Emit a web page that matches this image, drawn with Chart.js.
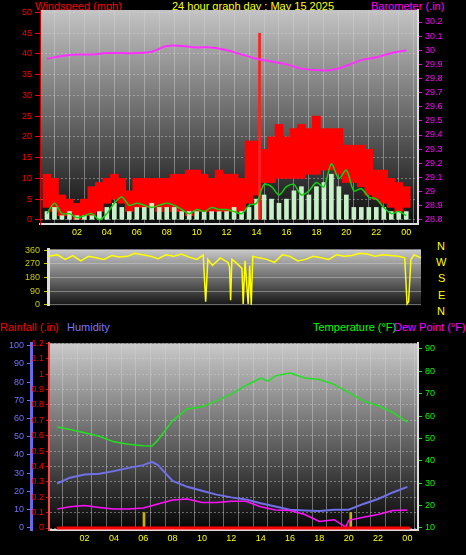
<!DOCTYPE html>
<html>
<head>
<meta charset="utf-8">
<script src="https://cdn.jsdelivr.net/npm/chart.js@4"></script>
<style>
  body { margin: 0; background: #000; width: 466px; height: 555px; overflow: hidden; font-family: "Liberation Sans", Arial, sans-serif; }
  canvas, .t { position: absolute; }
  .t { font-size: 11px; white-space: nowrap; line-height: 12px; }
</style>
</head>
<body>
<div class="t" style="left:35px;top:0px;color:#f00">Windspeed (mph)</div>
<div class="t" style="left:172px;top:0px;color:#ff0">24 hour graph day : May 15 2025</div>
<div class="t" style="left:371px;top:0px;color:#f0f">Barometer (.in)</div>
<div class="t" style="left:437px;top:240px;color:#ff0">N</div>
<div class="t" style="left:436px;top:256px;color:#ff0">W</div>
<div class="t" style="left:438px;top:272px;color:#ff0">S</div>
<div class="t" style="left:438px;top:289px;color:#ff0">E</div>
<div class="t" style="left:437px;top:305px;color:#ff0">N</div>
<div class="t" style="left:0px;top:321px;color:#f00">Rainfall (.in)</div>
<div class="t" style="left:67px;top:321px;color:#77f">Humidity</div>
<div class="t" style="left:313px;top:321px;color:#0f0">Temperature (°F)</div>
<div class="t" style="left:394px;top:321px;color:#f0f">Dew Point (°F)</div>

<canvas id="wind" width="466" height="245" style="left:0;top:0"></canvas>
<canvas id="dir" width="466" height="75" style="left:0;top:240px"></canvas>
<canvas id="temp" width="466" height="220" style="left:0;top:335px"></canvas>

<script>
// Ветер: получасовые отметки
const windTimes = [0,0.5,1,1.5,2,2.5,3,3.5,4,4.5,5,5.5,6,6.5,7,7.5,8,8.5,9,9.5,10,10.5,11,11.5,12,12.5,13,13.5,14,14.5,15,15.5,16,16.5,17,17.5,18,18.5,19,19.5,20,20.5,21,21.5,22,22.5,23,23.5,24];
const gustHigh = [11,10,6,5,4,5,8,9,10,11,10,7,10,10,10,10,10,11,11,12,12,11,10,12,11,11,10,19,19,17,20,23,20,22,23,22,25,22,22,22,18,18,18,17,12,12,10,9,8];
const gustLow = [3,2,1,1,0,1,1,2,4,5,4,2,3,3,3,2,3,2,2,1,2,2,2,2,2,2,2,4,6,9,9,10,10,10,10,11,11,12,12,11,9,9,8,6,5,4,3,2,3];
const calmHigh = [2,3,1,2,1,1,1,2,3,4,3,2,3,3,4,3,3,3,2,2,2,2,2,2,2,3,2,3,5,6,5,4,5,7,8,6,8,9,11,8,6,3,3,3,3,3,2,2,2];
const avgWind = [1.5,4,1.5,1.5,0.5,1,1.5,0,1.5,4,5.5,3.5,4,3.5,3,3.5,4,3.5,2.5,1.5,2.5,2,3,2.5,2.5,2,1.5,3.5,4,8.5,8,6,8,8.5,6,7,9,8,13.5,10,12,7,7.5,5.5,5,3,1.5,2,1];
const spikeTimes = [14.2];
const spikeValues = [45];

// Барометр
const baroTimes = [0,1,2,3,4,5,6,7,8,9,10,11,12,13,14,15,16,17,18,19,20,21,22,23,24];
const baroValues = [29.94,29.96,29.97,29.97,29.98,29.98,29.98,29.99,30.03,30.03,30.02,30.02,30.0,29.97,29.94,29.92,29.90,29.87,29.86,29.86,29.89,29.93,29.95,29.98,30.0];

// Направление ветра
const dirTimes = [0.4,1,1.5,2,2.5,3,3.5,4,4.5,5,5.5,6,6.5,7,7.5,8,8.5,9,9.5,10,10.4,10.56,10.7,11,11.5,12,12.1,12.17,12.25,12.5,12.9,12.98,13.1,13.3,13.4,13.5,13.6,14,14.5,15,15.5,16,16.5,17,17.5,18,18.5,19,19.5,20,20.5,21,21.5,22,22.5,23,23.4,23.55,23.65,23.8,24,24.45];
const dirDeg = [320,330,300,325,290,320,310,300,325,315,320,340,330,320,305,330,320,335,315,300,330,20,300,260,310,280,250,30,300,280,240,5,290,5,260,0,320,310,300,280,330,320,290,300,320,310,300,330,320,325,340,335,320,330,325,320,310,5,20,300,330,310];

// Температура, влажность, точка росы, осадки
const tempTimes = [0.13,1,2,3,4,5,6,6.6,7,8,9,10,11,12,13,14,14.5,15,16,17,18,19,20,21,22,23,24];
const tempValues = [55.1,54,52.6,51,48.5,47.4,46.8,46.6,49.3,58,63.2,64.2,66.8,69.8,73.7,77,75.6,78,79.3,77,76.4,74.2,70.5,66.8,64.6,61.7,57.3];
const humTimes = [0.13,1,2,3,4,5,6,6.6,7,8,9,10,11,12,13,14,15,16,17,18,19,20,21,22,23,24];
const humValues = [24.3,27.5,29.3,29.7,31.1,32.9,34.4,36.2,34.4,25.7,22.5,20.3,18.2,16.7,15.6,13.5,11.7,9.9,9.5,9.2,9.9,9.9,13.1,15.8,19.4,22.5];
const dewTimes = [0.13,1,2,3,4,5,6,7,8,9,10,11,12,13,14,15,16,17,18,19,19.8,20,21,22,23,24];
const dewValues = [18.5,19.5,20,19.2,18.5,18.5,18.9,20.7,22.5,22.9,21.4,21.4,21.9,21.9,19.5,18,17.8,16,12.9,13.7,10.4,13.4,14.8,16,17.8,18];
const rainTimes = [0.1,24.2];
const rainValues = [0,0];
const rainMarkTimes = [6.05,20.14];
const rainMarkValues = [0.1,0.1];

const FONT = { family: '"Liberation Sans", Arial, sans-serif', size: 9 };
const zip = (xs, ys) => xs.map((x, i) => ({ x: x, y: ys[i] }));

// фон области графика — градиент
const bgPlugin = {
    id: 'bg',
    beforeDraw(chart, args, opts) {
        const a = chart.chartArea, c = chart.ctx;
        const g = c.createLinearGradient(0, a.top, 0, a.bottom);
        g.addColorStop(0, opts.top);
        g.addColorStop(1, opts.bottom);
        c.save();
        c.fillStyle = g;
        c.fillRect(a.left, a.top, a.right - a.left, a.bottom - a.top);
        c.restore();
    }
};
Chart.register(bgPlugin);

function fixWidth(w) { return function(scale) { scale.width = w; }; }
function fixHeight(h) { return function(scale) { scale.height = h; }; }
function setTicks(vals) { return function(scale) { scale.ticks = vals.map(v => ({ value: v })); }; }
const grid = { color: 'rgba(210,210,210,0.45)', borderDash: [2, 2] };

function hourAxis(min, max, show, h) {
    return {
        type: 'linear', min: min, max: max, display: show,
        afterFit: fixHeight(h),
        afterBuildTicks: setTicks([1,2,3,4,5,6,7,8,9,10,11,12,13,14,15,16,17,18,19,20,21,22,23,24]),
        ticks: { color: '#ff0', font: FONT, maxRotation: 0, autoSkip: false,
            callback: v => v % 2 === 0 ? String(v % 24).padStart(2, '0') : '' },
        grid: Object.assign({ drawTicks: false }, grid),
        border: { color: '#ddd', width: 2 }
    };
}

const barBase = { type: 'bar', grouped: false, xAxisID: 'x', yAxisID: 'y' };

new Chart(document.getElementById('wind'), {
    data: {
        datasets: [
            Object.assign({}, barBase, { data: windTimes.map((t, i) => ({ x: t, y: [gustLow[i], gustHigh[i]] })), backgroundColor: '#ff0000', barThickness: 8, order: 5 }),
            Object.assign({}, barBase, { data: windTimes.map((t, i) => ({ x: t, y: [0, calmHigh[i]] })), backgroundColor: '#c8f0c8', barThickness: 4, order: 4 }),
            Object.assign({}, barBase, { data: zip(spikeTimes, spikeValues), backgroundColor: '#ff2020', barThickness: 2, order: 3 }),
            { type: 'line', data: zip(windTimes, avgWind), borderColor: '#10d010', borderWidth: 1.5, pointRadius: 0, tension: 0.3, yAxisID: 'y', order: 2 },
            { type: 'line', data: zip(baroTimes, baroValues), borderColor: '#ff30ff', borderWidth: 2, pointRadius: 0, tension: 0.4, yAxisID: 'y1', order: 1 }
        ]
    },
    options: {
        responsive: false, animation: false,
        layout: { padding: { top: 10 } },
        plugins: { legend: { display: false }, tooltip: { enabled: false }, bg: { top: '#c4c4c4', bottom: '#0c0c0c' } },
        scales: {
            x: hourAxis(0.06, 24.26, true, 21),
            y: { position: 'left', min: -1, max: 50.6, afterFit: fixWidth(40),
                afterBuildTicks: setTicks([0,5,10,15,20,25,30,35,40,45,50]),
                ticks: { color: '#f00', font: FONT, padding: 3 },
                grid: Object.assign({ tickLength: 5, tickColor: '#f00' }, grid),
                border: { color: '#c00', width: 1, dash: [2, 2] } },
            y1: { position: 'right', min: 28.77, max: 30.285, afterFit: fixWidth(48),
                afterBuildTicks: setTicks([28.8,28.9,29,29.1,29.2,29.3,29.4,29.5,29.6,29.7,29.8,29.9,30,30.1,30.2]),
                ticks: { color: '#f0f', font: FONT, padding: 3, callback: v => String(Math.round(v * 10) / 10) },
                grid: { drawOnChartArea: false, tickLength: 4, tickColor: '#f0f' },
                border: { color: '#ddd', width: 2 } }
        }
    }
});

new Chart(document.getElementById('dir'), {
    type: 'line',
    data: { datasets: [{ data: zip(dirTimes, dirDeg), borderColor: '#ffff00', borderWidth: 1.5, pointRadius: 0 }] },
    options: {
        responsive: false, animation: false,
        layout: { padding: { top: 4, bottom: 3, right: 45 } },
        plugins: { legend: { display: false }, tooltip: { enabled: false }, bg: { top: '#c8c8c8', bottom: '#151515' } },
        scales: {
            x: { type: 'linear', min: 0.39, max: 24.45, display: false },
            y: { min: -6, max: 366, afterFit: fixWidth(48),
                afterBuildTicks: setTicks([0,90,180,270,360]),
                ticks: { color: '#cc0', font: FONT, padding: 4 },
                grid: Object.assign({ tickLength: 4, tickColor: '#cc0' }, grid),
                border: { color: '#ddd', width: 3 } }
        }
    }
});

new Chart(document.getElementById('temp'), {
    type: 'line',
    data: {
        datasets: [
            Object.assign({}, barBase, { data: zip(rainMarkTimes, rainMarkValues), backgroundColor: '#c8b400', barThickness: 2, yAxisID: 'rain', order: 6 }),
            { data: zip(rainTimes, rainValues), borderColor: '#ff0000', borderWidth: 3, pointRadius: 0, yAxisID: 'rain', order: 1 },
            { data: zip(humTimes, humValues), borderColor: '#7070e8', borderWidth: 2, pointRadius: 0, yAxisID: 'hum', order: 4 },
            { data: zip(dewTimes, dewValues), borderColor: '#ff10ff', borderWidth: 1.5, pointRadius: 0, yAxisID: 'tmp', order: 3 },
            { data: zip(tempTimes, tempValues), borderColor: '#20e020', borderWidth: 1.5, pointRadius: 0, yAxisID: 'tmp', order: 2 }
        ]
    },
    options: {
        responsive: false, animation: false,
        layout: { padding: { top: 5 } },
        plugins: { legend: { display: false }, tooltip: { enabled: false }, bg: { top: '#cacaca', bottom: '#050505' } },
        scales: {
            x: hourAxis(0.1, 24.2, true, 25),
            hum: { position: 'left', weight: 2, min: -1.2, max: 101.2, afterFit: fixWidth(31),
                afterBuildTicks: setTicks([0,10,20,30,40,50,60,70,80,90,100]),
                ticks: { color: '#7070ff', font: FONT, padding: 3 },
                grid: { drawOnChartArea: false, tickLength: 4, tickColor: '#7070ff' },
                border: { color: '#6a6ae8', width: 3 } },
            rain: { position: 'left', weight: 1, min: -0.013, max: 1.2, afterFit: fixWidth(18),
                afterBuildTicks: setTicks([0,0.1,0.2,0.3,0.4,0.5,0.6,0.7,0.8,0.9,1,1.1,1.2]),
                ticks: { color: '#f00', font: FONT, padding: 2, callback: v => String(Math.round(v * 10) / 10) },
                grid: Object.assign({ tickLength: 3, tickColor: '#f00' }, grid),
                border: { color: '#f44', width: 2, dash: [2, 2] } },
            tmp: { position: 'right', min: 9.1, max: 92.5, afterFit: fixWidth(48),
                afterBuildTicks: setTicks([10,15,20,25,30,35,40,45,50,55,60,65,70,75,80,85,90]),
                ticks: { color: '#0f0', font: FONT, padding: 3 },
                grid: { drawOnChartArea: false, tickLength: 4, tickColor: '#0f0' },
                border: { color: '#ddd', width: 2 } }
        }
    }
});
</script>
</body>
</html>
